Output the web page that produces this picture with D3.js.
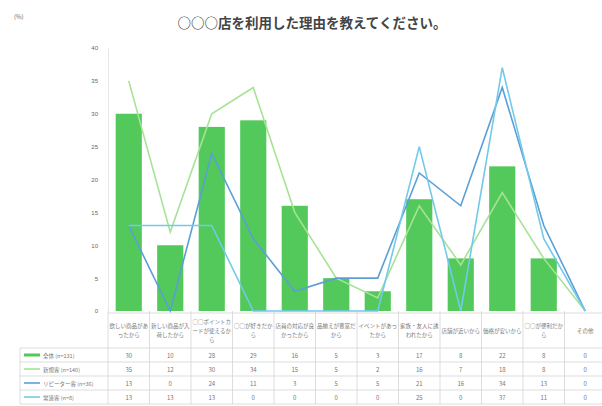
<!DOCTYPE html>
<html><head><meta charset="utf-8">
<script src="https://cdn.jsdelivr.net/npm/d3@7"></script>
<style>body{margin:0;background:#fff;}svg{display:block;font-family:"Noto Sans CJK JP","Noto Sans",sans-serif;}</style>
</head><body><svg id="c" width="602" height="406"></svg>
<script>
const categories = ["欲しい商品があったから","新しい商品が入荷したから","○○ポイントカードが使えるから","○○が好きだから","店員の対応が良かったから","品揃えが豊富だから","イベントがあったから","家族・友人に誘われたから","店舗が近いから","価格が安いから","○○が便利だから","その他"];
const seriesNames = ["全体 (n=131)","新規客 (n=140)","リピーター客 (n=36)","常連客 (n=8)"];
const allValues = [30,10,28,29,16,5,3,17,8,22,8,0];
const s2Values = [35,12,30,34,15,5,2,16,7,18,8,0];
const s3Values = [13,0,24,11,3,5,5,21,16,34,13,0];
const s4Values = [13,13,13,0,0,0,0,25,0,37,11,0];
const yTicks = [0,5,10,15,20,25,30,35,40];
const title = "○○○店を利用した理由を教えてください。";
const colors = ["#52c95a","#a6e394","#5b9fd6","#72c9ea"];

const svg = d3.select("#c");
const x = d3.scaleBand().domain(categories).range([108,606]).paddingInner(0.37).paddingOuter(0.185);
const xb = d3.scaleBand().domain(categories).range([108,606]);
const y = d3.scaleLinear().domain([0,40]).range([311,48]);

svg.append("text").attr("x",312).attr("y",28).attr("text-anchor","middle")
  .attr("font-size",13.5).attr("font-weight","bold").attr("fill","#444").text(title);
svg.append("text").attr("x",14).attr("y",19).attr("font-size",6).attr("fill","#666").text("(%)");

// y axis
const ya = svg.append("g").attr("transform","translate(108,0)")
  .call(d3.axisLeft(y).tickValues(yTicks).tickSize(0).tickPadding(10));
ya.select(".domain").attr("stroke","#e6e6e6");
ya.selectAll("text").attr("font-size",6).attr("fill","#666");

// bars
svg.append("g").selectAll("rect").data(allValues).join("rect")
  .attr("x",(d,i)=>x(categories[i])).attr("width",x.bandwidth())
  .attr("y",d=>y(d)).attr("height",d=>y(0)-y(d)).attr("fill",colors[0]);

// lines
const line = d3.line().x((d,i)=>xb(categories[i])+xb.bandwidth()/2).y(d=>y(d));
[[s2Values,colors[1]],[s3Values,colors[2]],[s4Values,colors[3]]].forEach(([v,c])=>{
  svg.append("path").datum(v).attr("d",line).attr("fill","none").attr("stroke",c).attr("stroke-width",1.6);
});

// table
const rowsY = [348,362,376,390,404];
const tg = svg.append("g");
const gridC = "#d4d4d4";
xb.domain().forEach(c=>{
  tg.append("line").attr("x1",xb(c)).attr("x2",xb(c)).attr("y1",311).attr("y2",404).attr("stroke",gridC).attr("stroke-width",0.8);
});
tg.append("line").attr("x1",20).attr("x2",20).attr("y1",348).attr("y2",404).attr("stroke",gridC).attr("stroke-width",0.8);
tg.append("line").attr("x1",108).attr("x2",606).attr("y1",313).attr("y2",313).attr("stroke",gridC).attr("stroke-width",0.8);
rowsY.forEach(ry=>{
  tg.append("line").attr("x1",20).attr("x2",606).attr("y1",ry).attr("y2",ry).attr("stroke",gridC).attr("stroke-width",0.8);
});
categories.forEach(c=>{
  const lines=[];
  for(let i=0;i<c.length;i+=7) lines.push(c.slice(i,i+7));
  const cx = xb(c)+xb.bandwidth()/2;
  const startY = 330.5 - (lines.length-1)*4.5;
  lines.forEach((l,k)=>{
    tg.append("text").attr("x",cx).attr("y",startY+k*9+2).attr("text-anchor","middle")
      .attr("font-size",5.5).attr("fill","#777").text(l);
  });
});
[allValues,s2Values,s3Values,s4Values].forEach((vals,r)=>{
  const cy = rowsY[r]+9.5;
  vals.forEach((v,i)=>{
    tg.append("text").attr("x",xb(categories[i])+xb.bandwidth()/2).attr("y",cy).attr("text-anchor","middle")
      .attr("font-size",6).attr("fill","#777").text(v);
  });
  tg.append("line").attr("x1",24).attr("x2",40).attr("y1",rowsY[r]+7).attr("y2",rowsY[r]+7)
    .attr("stroke",colors[r]).attr("stroke-width",r===0?3:1.6);
  tg.append("text").attr("x",43).attr("y",cy).attr("font-size",5.5).attr("fill","#777").text(seriesNames[r]);
});
</script></body></html>
